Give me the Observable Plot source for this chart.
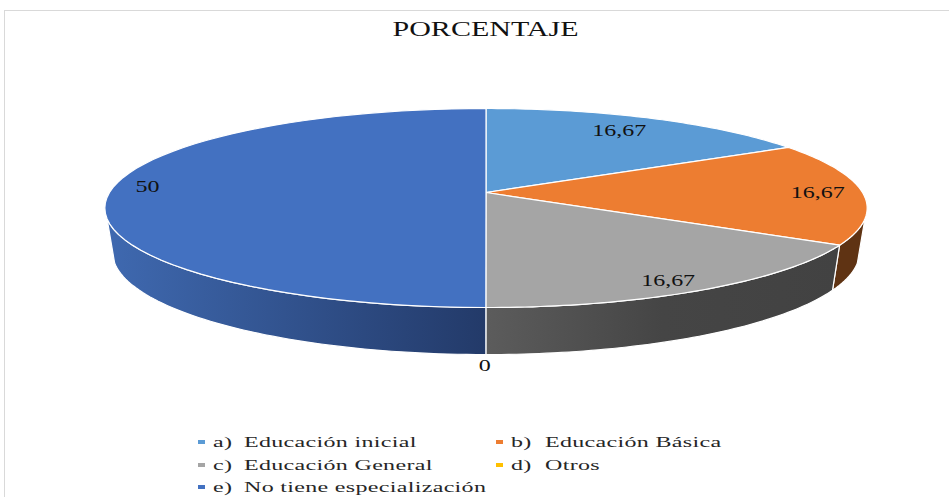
<!DOCTYPE html>
<html lang="es">
<head>
<meta charset="utf-8">
<script src="https://cdn.jsdelivr.net/npm/d3@7"></script>
<script src="https://cdn.jsdelivr.net/npm/@observablehq/plot@0.6"></script>
<style>
  html,body{margin:0;padding:0;background:#fff;overflow:hidden}
  #page{position:relative;width:949px;height:497px;overflow:hidden;font-family:"Liberation Serif",serif;color:#111}
  #frame{position:absolute;left:4px;top:10px;right:-4px;bottom:-4px;border:1.5px solid #d9d9d9;pointer-events:none}
  #title{position:absolute;left:0;width:971px;top:18px;text-align:center;font-size:20px;line-height:22px;transform:scaleX(1.5);transform-origin:485.5px 0;}
  #chart{position:absolute;left:0;top:50px}
  #chart svg{display:block}
  .key{position:absolute;width:7px;height:4px}
  .lab{position:absolute;font-size:15px;line-height:18px;white-space:nowrap;transform-origin:0 50%;letter-spacing:.2px;color:#262626}
</style>
</head>
<body>
<div id="page">
  <div id="frame"></div>
  <div id="title">PORCENTAJE</div>
  <div id="chart"></div>
  <div id="legend"></div>
</div>
<script>
// Data
const markers = ["a)", "b)", "c)", "d)", "e)"];
const categories = ["Educación inicial", "Educación Básica", "Educación General", "Otros", "No tiene especialización"];
const values = [16.67, 16.67, 16.67, 0, 50];
const valueLabels = ["16,67", "16,67", "16,67", "0", "50"];

// Styles
const topColors = ["#5b9bd5", "#ed7d31", "#a5a5a5", "#ffc000", "#4371c1"];
const wallFills = ["#3a6a96", "#5f3313", "url(#wallGrey)", "#8f6c00", "url(#wallBlue)"];

// Where each label sits on the pie: bearing in degrees and share of the radius
const labelBearing = [29.0, 90.5, 151.9, 180.1, 274.0];
const labelRadius = [0.81, 0.88, 0.90, 1.40, 0.91];

// 3D view of the disc
const k = 0.1558;                 // perspective strength
const apexX = 485.5, apexY = 192, rx = 376.5, ry = 97.1, chartTop = 50;
const floorScaleX = 0.98, floorScaleY = 1.03, floorDrop = 0.449;
const wallFrom = 105, wallTo = 255; // bearings of the visible wall

const project = (deg, r = 1) => {
  const t = deg * Math.PI / 180, X = r * Math.sin(t), Y = r * Math.cos(t), w = 1 + k * Y;
  return {x: X / w, y: Y / w};
};
const floor = (p) => ({x: p.x * floorScaleX, y: p.y * floorScaleY - floorDrop});
const arcDegrees = (a, b) => d3.range(0, 61).map((i) => a + (b - a) * i / 60);

const total = d3.sum(values);
let acc = 0;
const slices = values.map((v, i) => {
  const start = acc / total * 360;
  acc += v;
  return {i, start, end: acc / total * 360};
});

const marks = [
  () => {
    const defs = d3.create("svg:defs");
    const grad = (id, stops) => {
      const g = defs.append("linearGradient").attr("id", id).attr("x1", 0).attr("x2", 1).attr("y1", 0).attr("y2", 0);
      stops.forEach(([o, c]) => g.append("stop").attr("offset", o).attr("stop-color", c));
    };
    grad("wallBlue", [[0, "#3f69b0"], [1, "#233a69"]]);
    grad("wallGrey", [[0, "#5c5c5c"], [0.5, "#454545"], [1, "#424242"]]);
    return defs.node();
  }
];

// Side walls
for (const s of slices) {
  const a = Math.max(s.start, wallFrom), b = Math.min(s.end, wallTo);
  if (b <= a) continue;
  const deg = arcDegrees(a, b);
  const poly = [...deg.map((d) => project(d)), ...deg.slice().reverse().map((d) => floor(project(d)))];
  marks.push(Plot.line(poly, {x: "x", y: "y", fill: wallFills[s.i], stroke: "#fff", strokeWidth: 1.2, strokeLinejoin: "round", curve: "linear-closed"}));
}

// Top faces
for (const s of slices) {
  if (s.end <= s.start) continue;
  const poly = [{x: 0, y: 0}, ...arcDegrees(s.start, s.end).map((d) => project(d))];
  marks.push(Plot.line(poly, {x: "x", y: "y", fill: topColors[s.i], stroke: "#fff", strokeWidth: 1.2, strokeLinejoin: "round", curve: "linear-closed"}));
}

// Value labels
const labelData = values.map((v, i) => ({...project(labelBearing[i], labelRadius[i]), text: valueLabels[i]}));
marks.push(Plot.text(labelData, {x: "x", y: "y", text: "text", fontSize: 16, fontFamily: "Liberation Serif", fill: "#111", textAnchor: "middle", lineAnchor: "middle"}));

const plot = Plot.plot({
  width: 949,
  height: 375,
  margin: 0,
  x: {domain: [-1, 1], range: [apexX - rx, apexX + rx], axis: null},
  y: {domain: [-1, 1], range: [apexY - chartTop + ry, apexY - chartTop - ry], axis: null},
  style: {background: "transparent", overflow: "visible"},
  marks
});
document.getElementById("chart").append(plot);

// The reference is stretched sideways
plot.querySelectorAll("text").forEach((t) => {
  const tr = t.getAttribute("transform") || "";
  t.setAttribute("transform", tr + " scale(1.5,1)");
});

// Legend
const legend = document.getElementById("legend");
const rows = [433, 456, 478];
const slots = [
  {key: 198, mark: 213, text: 244, row: 0},
  {key: 496, mark: 511, text: 545, row: 0},
  {key: 198, mark: 213, text: 244, row: 1},
  {key: 496, mark: 511, text: 545, row: 1},
  {key: 198, mark: 213, text: 244, row: 2}
];
categories.forEach((c, i) => {
  const s = slots[i], top = rows[s.row];
  const key = document.createElement("span");
  key.className = "key";
  key.style.cssText = `left:${s.key}px;top:${top + 7}px;background:${topColors[i]}`;
  legend.append(key);
  for (const [txt, left] of [[markers[i], s.mark], [c, s.text]]) {
    const el = document.createElement("span");
    el.className = "lab";
    el.textContent = txt;
    el.style.left = left + "px";
    el.style.top = top + "px";
    el.style.transform = "scaleX(1.6)";
    legend.append(el);
  }
});
</script>
</body>
</html>
